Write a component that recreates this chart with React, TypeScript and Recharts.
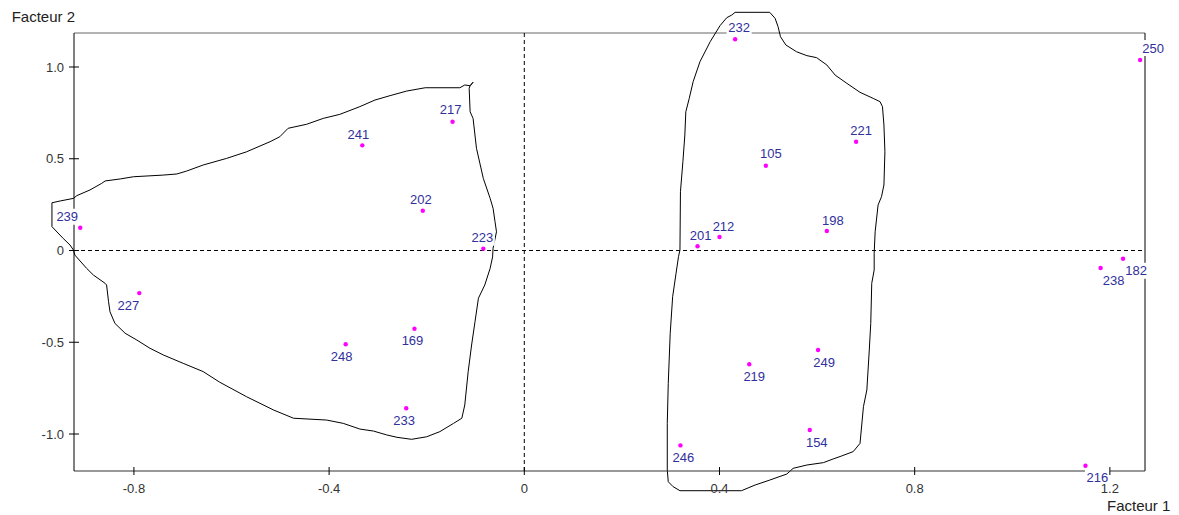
import React from 'react';
import { ScatterChart, Scatter, XAxis, YAxis, ReferenceLine } from 'recharts';

// Factor plane bounds and ticks
const X_MIN = -0.9228;
const X_MAX = 1.272;
const Y_MIN = -1.2016;
const Y_MAX = 1.1853;
const xTicks = [-0.8, -0.4, 0, 0.4, 0.8, 1.2];
const yTicks = [-1.0, -0.5, 0, 0.5, 1.0];

// Individuals and their coordinates on factors 1 and 2
const ids = ['239', '227', '241', '217', '202', '223', '248', '169', '233', '232', '250', '221', '105', '212', '201', '198', '238', '182', '219', '249', '154', '246', '216'];
const factor1 = [-0.910, -0.789, -0.332, -0.147, -0.208, -0.084, -0.366, -0.225, -0.242, 0.432, 1.262, 0.680, 0.495, 0.400, 0.355, 0.620, 1.181, 1.227, 0.461, 0.602, 0.585, 0.320, 1.150];
const factor2 = [0.124, -0.232, 0.573, 0.702, 0.217, 0.010, -0.511, -0.426, -0.860, 1.151, 1.038, 0.593, 0.462, 0.074, 0.023, 0.106, -0.095, -0.045, -0.620, -0.542, -0.978, -1.062, -1.173];

// Hand-drawn group outlines (factor 1, factor 2)
const leftOutline: [number, number][] = [
  [-0.968, 0.130], [-0.968, 0.260], [-0.951, 0.270], [-0.924, 0.284], [-0.917, 0.299], [-0.890, 0.330],
  [-0.866, 0.366], [-0.859, 0.379], [-0.828, 0.390], [-0.801, 0.402], [-0.740, 0.411], [-0.712, 0.417],
  [-0.692, 0.433], [-0.658, 0.466], [-0.610, 0.502], [-0.569, 0.538], [-0.521, 0.593], [-0.501, 0.620],
  [-0.484, 0.666], [-0.446, 0.688], [-0.412, 0.720], [-0.378, 0.742], [-0.337, 0.784], [-0.306, 0.820],
  [-0.275, 0.844], [-0.241, 0.869], [-0.203, 0.887], [-0.132, 0.887], [-0.122, 0.902], [-0.111, 0.898],
  [-0.105, 0.917], [-0.111, 0.898], [-0.113, 0.884], [-0.111, 0.756], [-0.105, 0.720], [-0.098, 0.557],
  [-0.084, 0.393], [-0.070, 0.284], [-0.064, 0.230], [-0.060, 0.157], [-0.057, 0.102], [-0.064, 0.012],
  [-0.065, -0.035], [-0.070, -0.097], [-0.081, -0.188], [-0.094, -0.260], [-0.101, -0.388], [-0.108, -0.515],
  [-0.115, -0.660], [-0.122, -0.842], [-0.128, -0.914], [-0.145, -0.942], [-0.173, -0.987], [-0.200, -1.015],
  [-0.231, -1.029], [-0.261, -1.018], [-0.282, -1.005], [-0.309, -0.984], [-0.337, -0.973], [-0.371, -0.942],
  [-0.405, -0.924], [-0.473, -0.914], [-0.514, -0.869], [-0.569, -0.797], [-0.624, -0.718], [-0.658, -0.660],
  [-0.699, -0.615], [-0.740, -0.569], [-0.767, -0.533], [-0.794, -0.488], [-0.818, -0.451], [-0.839, -0.397],
  [-0.849, -0.334], [-0.852, -0.279], [-0.856, -0.188], [-0.859, -0.179], [-0.883, -0.134], [-0.897, -0.097],
  [-0.921, -0.025], [-0.924, 0.003], [-0.931, 0.030], [-0.945, 0.066], [-0.968, 0.130],
];

const rightOutline: [number, number][] = [
  [0.432, 1.298], [0.503, 1.298], [0.514, 1.265], [0.520, 1.220], [0.525, 1.165], [0.536, 1.120],
  [0.558, 1.083], [0.579, 1.062], [0.599, 1.051], [0.620, 1.011], [0.637, 0.956], [0.661, 0.911],
  [0.688, 0.862], [0.715, 0.829], [0.729, 0.811], [0.734, 0.784], [0.737, 0.684], [0.739, 0.538],
  [0.737, 0.357], [0.732, 0.293], [0.725, 0.248], [0.719, 0.102], [0.717, -0.015], [0.717, -0.106],
  [0.712, -0.179], [0.710, -0.397], [0.707, -0.542], [0.702, -0.760], [0.695, -0.851], [0.688, -1.051],
  [0.674, -1.096], [0.650, -1.120], [0.633, -1.136], [0.613, -1.156], [0.579, -1.169], [0.551, -1.187],
  [0.538, -1.218], [0.503, -1.251], [0.473, -1.278], [0.445, -1.309], [0.387, -1.309], [0.319, -1.309],
  [0.305, -1.287], [0.295, -1.260], [0.293, -1.196], [0.293, -0.942], [0.295, -0.724], [0.299, -0.451],
  [0.304, -0.252], [0.311, -0.124], [0.316, -0.034], [0.319, 0.003], [0.320, 0.320], [0.325, 0.484],
  [0.329, 0.629], [0.331, 0.756], [0.338, 0.829], [0.346, 0.920], [0.360, 1.029], [0.381, 1.138],
  [0.401, 1.225], [0.415, 1.269], [0.425, 1.283], [0.432, 1.298],
];

const points = ids.map((id, i) => ({ id, x: factor1[i], y: factor2[i] }));

// Consecutive vertex pairs of an outline, as reference-line segments
const toSegments = (outline: [number, number][]) =>
  outline.slice(1).map((p, i) => [
    { x: outline[i][0], y: outline[i][1] },
    { x: p[0], y: p[1] },
  ]);
const outlineSegments = [...toSegments(leftOutline), ...toSegments(rightOutline)];

// Where each point's label sits relative to its dot (px)
const labelShift: Record<string, [number, number]> = {
  '239': [-13, -11], '227': [-11, 12], '241': [-4, -11], '217': [-2, -12], '202': [-2, -11],
  '223': [-1, -11], '248': [-4, 12], '169': [-2, 12], '233': [-2, 12], '232': [4, -12],
  '250': [13, -12], '221': [5, -11], '105': [5, -12], '212': [4, -11], '201': [3, -11],
  '198': [6, -11], '238': [13, 12], '182': [13, 12], '219': [5, 12], '249': [6, 12],
  '154': [7, 12], '246': [3, 12], '216': [12, 12],
};

const FONT = '"Liberation Sans", Arial, sans-serif';
const fmt = (v: number) => (v === 0 ? '0' : v.toFixed(1));

const PointMark = (props: any) => {
  const { cx, cy, payload } = props;
  const [dx, dy] = labelShift[payload.id] ?? [0, -11];
  const w = 25;
  const h = 16;
  return (
    <g>
      <rect x={cx + dx - w / 2} y={cy + dy - h / 2} width={w} height={h} fill="#ffffff" />
      <circle cx={cx} cy={cy} r={2.2} fill="#ff00ff" />
      <text x={cx + dx} y={cy + dy} dy="0.36em" textAnchor="middle" fontFamily={FONT} fontSize={13} fill="#30309c">
        {payload.id}
      </text>
    </g>
  );
};

const YTick = (props: any) => {
  const { x, y, payload } = props;
  return (
    <g>
      <line x1={x + 5} x2={x + 15} y1={y} y2={y} stroke="#000" />
      <text x={x} y={y} dy="0.36em" textAnchor="end" fontFamily={FONT} fontSize={13} fill="#333">
        {fmt(payload.value)}
      </text>
    </g>
  );
};

const XTick = (props: any) => {
  const { x, y, payload } = props;
  return (
    <g>
      <line x1={x} x2={x} y1={y - 17} y2={y - 9} stroke="#000" />
      <text x={x} y={y} dy="0.71em" textAnchor="middle" fontFamily={FONT} fontSize={13} fill="#333">
        {fmt(payload.value)}
      </text>
    </g>
  );
};

export default function App() {
  return (
    <div style={{ position: 'relative', width: 1163, height: 507 }}>
      <ScatterChart width={1163} height={499} margin={{ top: 25, right: 26, left: 0, bottom: 0 }}>
        <XAxis
          type="number"
          dataKey="x"
          domain={[X_MIN, X_MAX]}
          ticks={xTicks}
          height={36}
          tickSize={5}
          tickMargin={8}
          tickLine={false}
          tick={<XTick />}
          axisLine={{ stroke: '#333' }}
          interval={0}
        />
        <YAxis
          type="number"
          dataKey="y"
          domain={[Y_MIN, Y_MAX]}
          ticks={yTicks}
          width={66}
          tickSize={5}
          tickMargin={5}
          tickLine={false}
          tick={<YTick />}
          axisLine={{ stroke: '#000' }}
          interval={0}
        />
        <ReferenceLine y={Y_MAX} stroke="#666" ifOverflow="visible" />
        <ReferenceLine x={X_MAX} stroke="#000" ifOverflow="visible" />
        <ReferenceLine x={0} stroke="#000" strokeDasharray="4 3" />
        <ReferenceLine y={0} stroke="#000" strokeDasharray="4 3" />
        <Scatter data={points} shape={<PointMark />} isAnimationActive={false} />
        {outlineSegments.map((seg, i) => (
          <ReferenceLine key={`seg-${i}`} segment={seg} stroke="#000" strokeWidth={1} ifOverflow="visible" />
        ))}
      </ScatterChart>
      <svg width={1163} height={507} style={{ position: 'absolute', left: 0, top: 0, pointerEvents: 'none', overflow: 'visible' }}>
        <text x={3.7} y={13.7} fontFamily={FONT} fontSize={15} fill="#222">Facteur 2</text>
        <text x={1099} y={502.7} fontFamily={FONT} fontSize={15} fill="#222">Facteur 1</text>
      </svg>
    </div>
  );
}
